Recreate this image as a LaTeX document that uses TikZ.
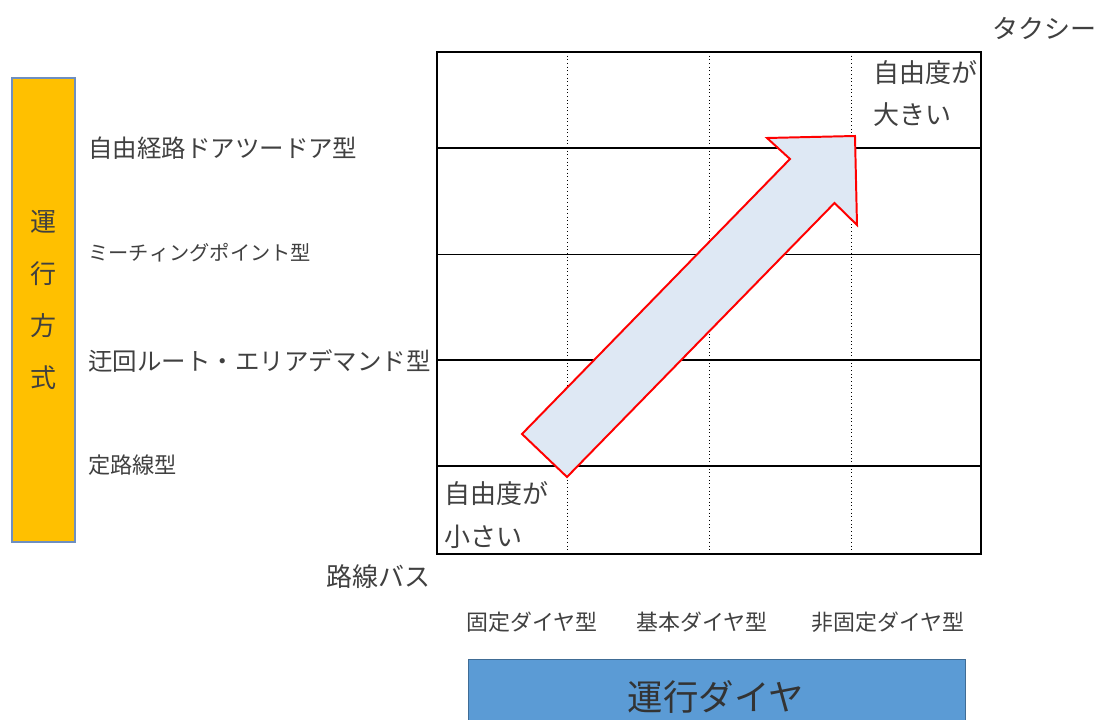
\documentclass[tikz,border=0pt]{standalone}
\usepackage{fontspec}
\setmainfont{Noto Sans CJK JP}
\definecolor{txt}{HTML}{404040}
\definecolor{barorange}{HTML}{FFC000}
\definecolor{barline}{HTML}{6E8FC0}
\definecolor{barblue}{HTML}{5B9BD5}
\definecolor{arrowfill}{HTML}{DEE8F4}
\begin{document}
\begin{tikzpicture}[x=0.025cm,y=-0.025cm,
    lbl/.style={anchor=west,inner sep=0,text=txt,font=\fontsize{17.4}{20}\selectfont},
    small lbl/.style={lbl,font=\fontsize{14.4}{17}\selectfont},
    axis lbl/.style={inner sep=0,text=txt,font=\fontsize{15.6}{18}\selectfont},
    note/.style={anchor=west,inner sep=0,text=txt,font=\fontsize{18.5}{22}\selectfont},
    grid thick/.style={line width=1.4pt},
    grid thin/.style={line width=0.7pt},
    grid dot/.style={line width=0.6pt,dotted}]
    \useasboundingbox (0,0) rectangle (1099,720);

    % left bar
    \node[draw=barline,line width=0.8pt,fill=barorange,minimum width=63*0.025cm,minimum height=464*0.025cm,inner sep=0] at (43.5,310) (mode) {};
    \node[align=center,inner sep=0,text=txt,font=\fontsize{18.5}{37}\selectfont] at (44,300) (modetxt) {運\\行\\方\\式};

    % row labels
    \node[lbl] at (88, 148) (door) {自由経路ドアツードア型};
    \node[small lbl] at (88, 253) (meet) {ミーチィングポイント型};
    \node[lbl] at (88, 361) (detour) {迂回ルート・エリアデマンド型};
    \node[lbl,font=\fontsize{15.8}{18}\selectfont] at (88, 465) (fixed) {定路線型};

    % grid
    \draw[grid dot] (567,52) -- (567,554) (709,52) -- (709,554) (851,52) -- (851,554);
    \draw[grid thick] (437,148) -- (981,148) (437,360) -- (981,360) (437,466) -- (981,466);
    \draw[grid thin] (437,254) -- (981,254);
    \draw[grid thick] (437,52) rectangle (981,554);

    % arrow
    \draw[red,line width=1.4pt,fill=arrowfill,line join=miter]
        (522,434) -- (790,159) -- (767,138) -- (855,136) -- (857,225)
        -- (834.5,203) -- (567,477) -- cycle;

    % corner notes
    \node[note] at (873, 73) (bigA) {自由度が};
    \node[note] at (873, 115) (bigB) {大きい};
    \node[note] at (444, 494) (smallA) {自由度が};
    \node[note] at (444, 537) (smallB) {小さい};
    \node[note,anchor=east] at (1097, 28) (taxi) {タクシー};
    \node[note,anchor=east] at (431, 577) (bus) {路線バス};

    % column labels
    \node[axis lbl] at (532, 622) (colA) {固定ダイヤ型};
    \node[axis lbl] at (702, 622) (colB) {基本ダイヤ型};
    \node[axis lbl] at (888, 622) (colC) {非固定ダイヤ型};

    % bottom bar
    \node[draw=barblue!70!black,line width=0.7pt,fill=barblue,minimum width=497*0.025cm,minimum height=70*0.025cm,inner sep=0] at (716.5,694) (dia) {};
    \node[inner sep=0,text=black!80,font=\fontsize{25.2}{30}\selectfont] at (716,697) (diatxt) {運行ダイヤ};
\end{tikzpicture}
\end{document}
